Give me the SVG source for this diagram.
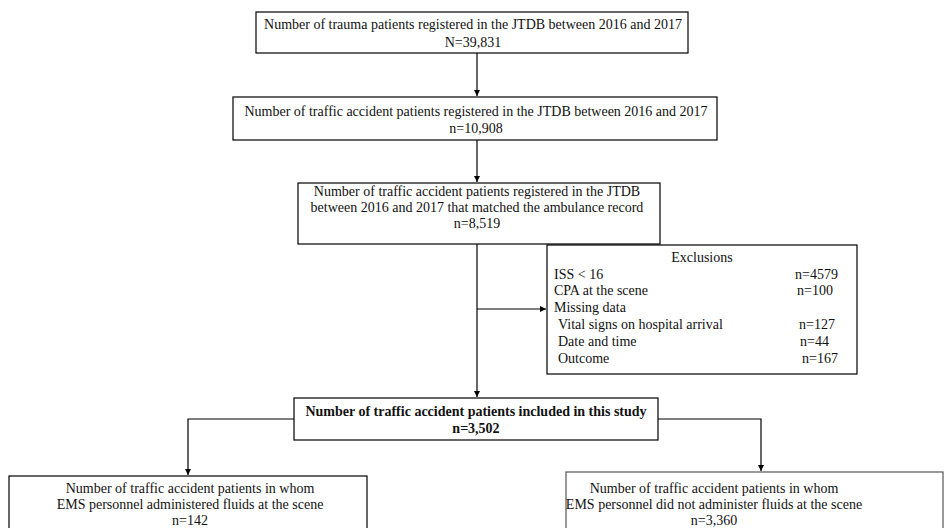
<svg xmlns="http://www.w3.org/2000/svg" width="945" height="528" viewBox="0 0 945 528">
<defs>
<style>
.box{fill:#fff;stroke:#000;stroke-width:1.2}
.t{font-family:"Liberation Serif","Times New Roman",serif;font-size:14px;fill:#111}
.c{text-anchor:middle}
.b{font-weight:bold}
.ln{fill:none;stroke:#000;stroke-width:1.2}
</style>
<marker id="ah" viewBox="0 0 8 8" refX="8" refY="4" markerWidth="6" markerHeight="6" orient="auto" markerUnits="userSpaceOnUse">
<path d="M0,0 L8,4 L0,8 Z" fill="#000"/>
</marker>
</defs>
<rect width="945" height="528" fill="#fff"/>
<g id="connectors">
<line class="ln" x1="477" y1="53" x2="477" y2="96" marker-end="url(#ah)"/>
<line class="ln" x1="477" y1="140" x2="477" y2="182" marker-end="url(#ah)"/>
<line class="ln" x1="477" y1="244" x2="477" y2="397" marker-end="url(#ah)"/>
<line class="ln" x1="477" y1="309" x2="546" y2="309" marker-end="url(#ah)"/>
<polyline class="ln" points="294,419 188,419 188,475" marker-end="url(#ah)"/>
<polyline class="ln" points="658,419 761,419 761,471" marker-end="url(#ah)"/>
</g>
<g id="n1">
<rect class="box" x="256" y="12" width="432" height="41"/>
<text class="t c" x="473" y="29">Number of trauma patients registered in the JTDB between 2016 and 2017</text>
<text class="t c" x="473" y="47">N=39,831</text>
</g>
<g id="n2">
<rect class="box" x="233" y="97" width="484" height="43"/>
<text class="t c" x="476" y="116">Number of traffic accident patients registered in the JTDB between 2016 and 2017</text>
<text class="t c" x="476" y="133">n=10,908</text>
</g>
<g id="n3">
<rect class="box" x="298" y="183" width="362" height="61"/>
<text class="t c" x="477" y="196">Number of traffic accident patients registered in the JTDB</text>
<text class="t c" x="477" y="212">between 2016 and 2017 that matched the ambulance record</text>
<text class="t c" x="477" y="228">n=8,519</text>
</g>
<g id="exclusions">
<rect class="box" x="547" y="245" width="310" height="129"/>
<text class="t c" x="702" y="262">Exclusions</text>
<text class="t" x="554" y="279">ISS &lt; 16</text>
<text class="t" x="795" y="279">n=4579</text>
<text class="t" x="554" y="295">CPA at the scene</text>
<text class="t" x="797" y="295">n=100</text>
<text class="t" x="554" y="312">Missing data</text>
<text class="t" x="558" y="329">Vital signs on hospital arrival</text>
<text class="t" x="799" y="329">n=127</text>
<text class="t" x="558" y="346">Date and time</text>
<text class="t" x="800" y="346">n=44</text>
<text class="t" x="558" y="363">Outcome</text>
<text class="t" x="802" y="363">n=167</text>
</g>
<g id="n4">
<rect class="box" x="294" y="398" width="364" height="42"/>
<text class="t c b" x="476" y="416">Number of traffic accident patients included in this study</text>
<text class="t c b" x="476" y="433">n=3,502</text>
</g>
<g id="n5">
<rect class="box" x="9" y="476" width="358" height="60"/>
<text class="t c" x="190" y="493">Number of traffic accident patients in whom</text>
<text class="t c" x="190" y="509">EMS personnel administered fluids at the scene</text>
<text class="t c" x="190" y="525">n=142</text>
</g>
<g id="n6">
<rect class="box" x="566" y="472" width="377" height="64" style="stroke:#555"/>
<text class="t c" x="714" y="493">Number of traffic accident patients in whom</text>
<text class="t c" x="714" y="509">EMS personnel did not administer fluids at the scene</text>
<text class="t c" x="714" y="525">n=3,360</text>
</g>
</svg>
